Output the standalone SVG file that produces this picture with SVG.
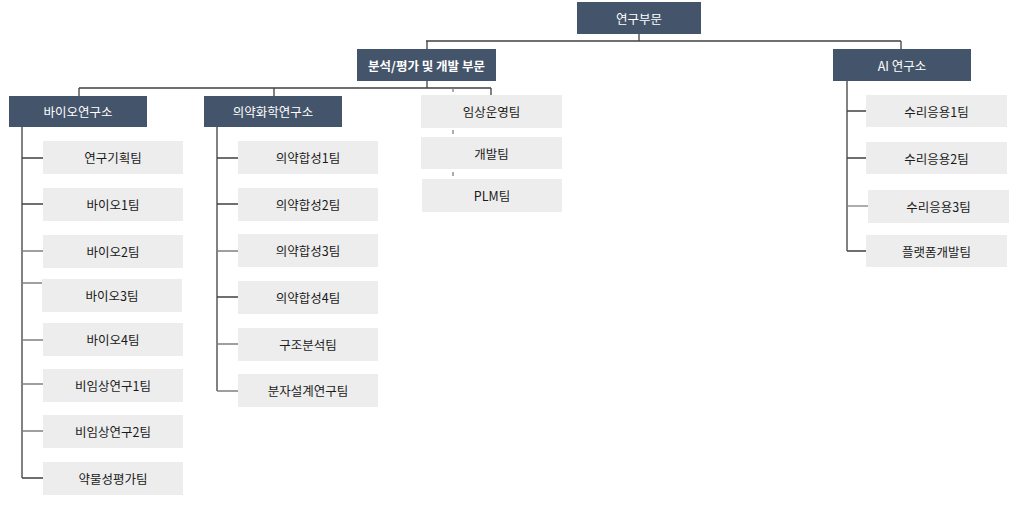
<svg xmlns="http://www.w3.org/2000/svg" width="1016" height="507" viewBox="0 0 1016 507">
<style>
.d{fill:#44546A}
.l{fill:#EDEDED}
.dt{fill:#FFFFFF;font-family:"Noto Sans CJK KR","Malgun Gothic",sans-serif;font-size:12.5px;text-anchor:middle;dominant-baseline:central}
.lt{fill:#1A1A1A;font-family:"Noto Sans CJK KR","Malgun Gothic",sans-serif;font-size:12.5px;text-anchor:middle;dominant-baseline:central}
.b{font-weight:bold}
.c{stroke:#404040;stroke-width:1.3;fill:none}
.g{stroke:#808080;stroke-width:1.3;fill:none}
</style>
<rect width="1016" height="507" fill="#FFFFFF"/>
<g id="connectors">
<path class="c" d="M639 34V41M426 41H901M427 41V49M901 41V49"/>
<path class="c" d="M427 81V88M79 88H491M79 88V96M274 88V96M491 88V95"/>
<path class="g" d="M453 88V212" stroke-dasharray="4 3"/>
<path class="c" d="M22 127V478M22 158H43M22 204H43M22 478H43"/>
<path class="g" d="M22 251H43M22 283H42M22 340H43M22 384H43M22 431H43"/>
<path class="c" d="M217 127V391M217 158H238M217 204H238M217 297H238"/>
<path class="g" d="M217 251H238M217 344H238M217 391H238"/>
<path class="c" d="M847 81V251M847 111H866M847 158H866M847 251H866"/>
<path class="g" d="M847 206H868"/>
</g>
<g id="n_root"><rect class="d" x="577" y="2" width="124" height="32"/><text class="dt" x="639" y="18">연구부문</text></g>
<g id="n_anal"><rect class="d" x="357" y="49" width="139" height="32"/><text class="dt b" x="426.5" y="65">분석/평가 및 개발 부문</text></g>
<g id="n_ai"><rect class="d" x="833" y="49" width="138" height="32"/><text class="dt" x="902" y="65">AI 연구소</text></g>
<g id="n_bio"><rect class="d" x="9" y="96" width="138" height="31"/><text class="dt" x="78" y="111.5">바이오연구소</text></g>
<g id="n_chem"><rect class="d" x="204" y="96" width="138" height="31"/><text class="dt" x="273" y="111.5">의약화학연구소</text></g>
<g id="n_b1"><rect class="l" x="43" y="141" width="140" height="33"/><text class="lt" x="113" y="157.5">연구기획팀</text></g>
<g id="n_b2"><rect class="l" x="43" y="188" width="140" height="33"/><text class="lt" x="113" y="204.5">바이오1팀</text></g>
<g id="n_b3"><rect class="l" x="43" y="235" width="140" height="33"/><text class="lt" x="113" y="251.5">바이오2팀</text></g>
<g id="n_b4"><rect class="l" x="42" y="279" width="140" height="33"/><text class="lt" x="112" y="295.5">바이오3팀</text></g>
<g id="n_b5"><rect class="l" x="43" y="323" width="140" height="33"/><text class="lt" x="113" y="339.5">바이오4팀</text></g>
<g id="n_b6"><rect class="l" x="43" y="369" width="140" height="33"/><text class="lt" x="113" y="385.5">비임상연구1팀</text></g>
<g id="n_b7"><rect class="l" x="43" y="415" width="140" height="33"/><text class="lt" x="113" y="431.5">비임상연구2팀</text></g>
<g id="n_b8"><rect class="l" x="43" y="462" width="140" height="33"/><text class="lt" x="113" y="478.5">약물성평가팀</text></g>
<g id="n_c1"><rect class="l" x="238" y="141" width="140" height="33"/><text class="lt" x="308" y="157.5">의약합성1팀</text></g>
<g id="n_c2"><rect class="l" x="238" y="188" width="140" height="33"/><text class="lt" x="308" y="204.5">의약합성2팀</text></g>
<g id="n_c3"><rect class="l" x="238" y="234" width="140" height="33"/><text class="lt" x="308" y="250.5">의약합성3팀</text></g>
<g id="n_c4"><rect class="l" x="238" y="281" width="140" height="33"/><text class="lt" x="308" y="297.5">의약합성4팀</text></g>
<g id="n_c5"><rect class="l" x="238" y="328" width="140" height="33"/><text class="lt" x="308" y="344.5">구조분석팀</text></g>
<g id="n_c6"><rect class="l" x="238" y="374" width="140" height="33"/><text class="lt" x="308" y="390.5">분자설계연구팀</text></g>
<g id="n_a1"><rect class="l" x="421" y="95" width="141" height="33"/><text class="lt" x="491.5" y="111.5">임상운영팀</text></g>
<g id="n_a2"><rect class="l" x="421" y="137" width="141" height="32"/><text class="lt" x="491.5" y="153">개발팀</text></g>
<g id="n_a3"><rect class="l" x="422" y="179" width="140" height="33"/><text class="lt" x="492" y="195.5">PLM팀</text></g>
<g id="n_i1"><rect class="l" x="866" y="95" width="141" height="32"/><text class="lt" x="936.5" y="111">수리응용1팀</text></g>
<g id="n_i2"><rect class="l" x="866" y="142" width="141" height="32"/><text class="lt" x="936.5" y="158">수리응용2팀</text></g>
<g id="n_i3"><rect class="l" x="868" y="190" width="141" height="33"/><text class="lt" x="938.5" y="206.5">수리응용3팀</text></g>
<g id="n_i4"><rect class="l" x="866" y="235" width="141" height="32"/><text class="lt" x="936.5" y="251">플랫폼개발팀</text></g>
</svg>
